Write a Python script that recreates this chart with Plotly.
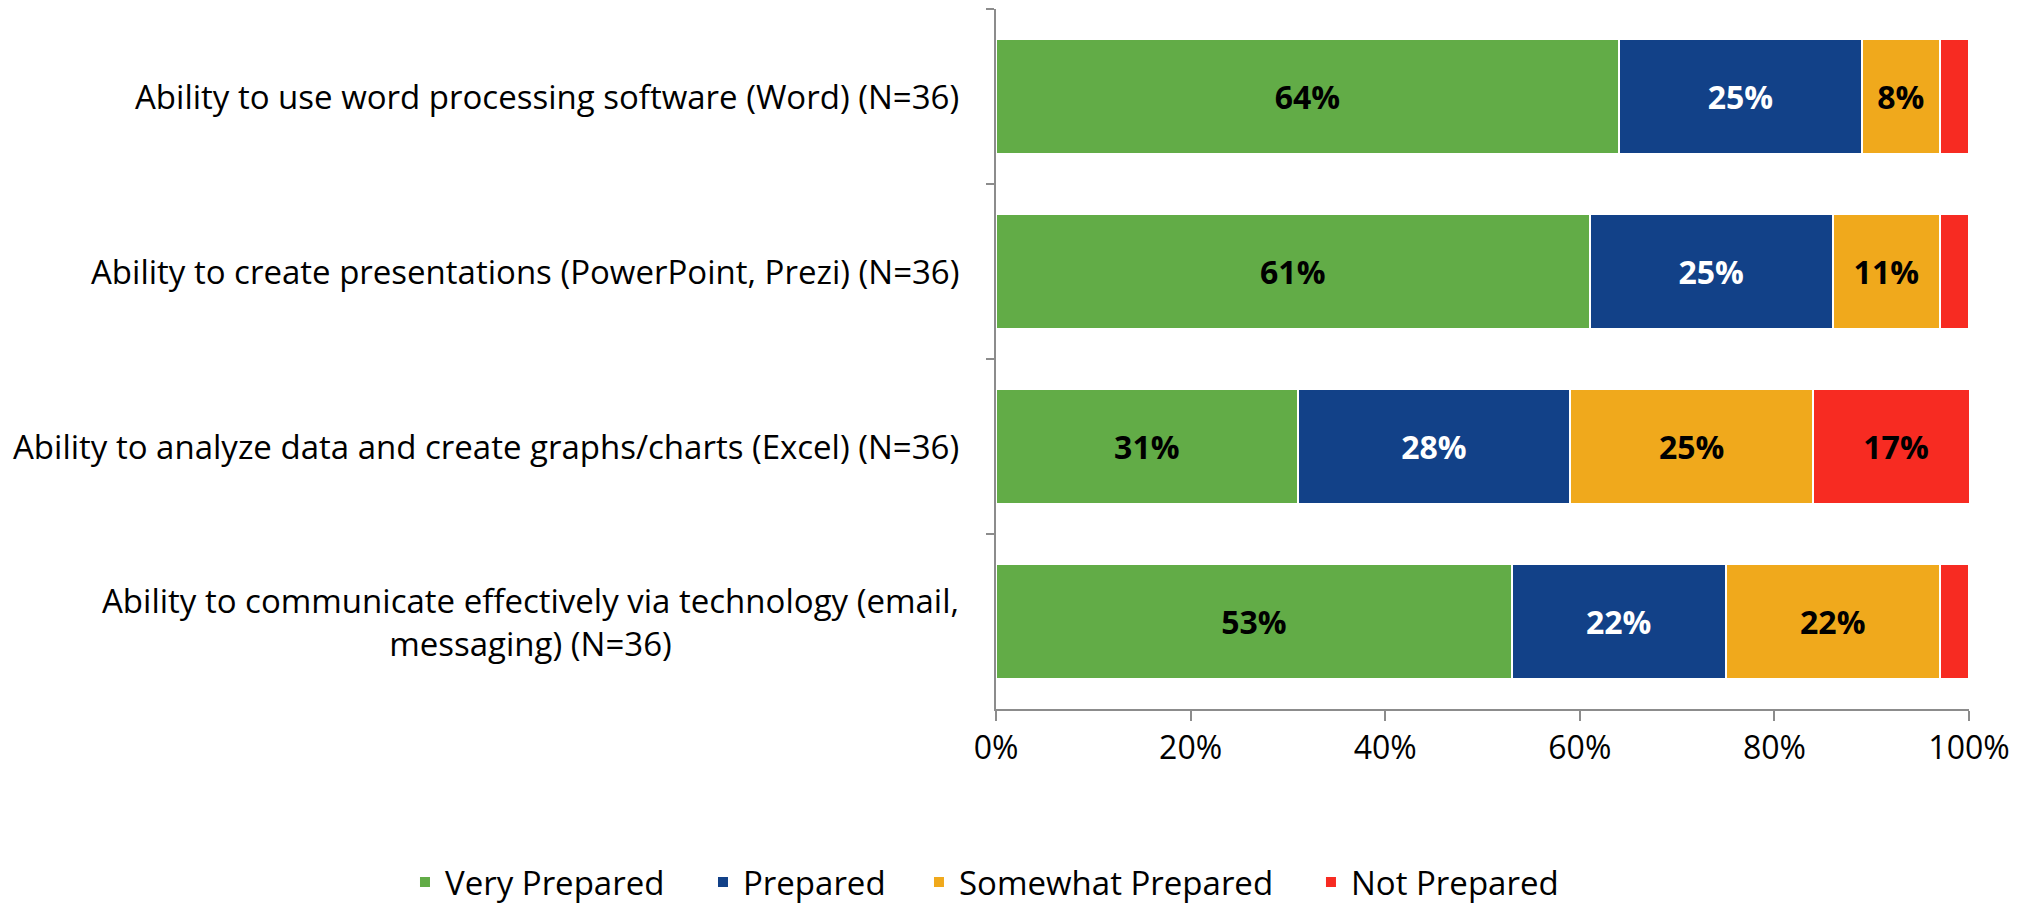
import plotly.graph_objects as go

categories = [
    "Ability to use word processing software (Word) (N=36)",
    "Ability to create presentations (PowerPoint, Prezi) (N=36)",
    "Ability to analyze data and create graphs/charts (Excel) (N=36)",
    "Ability to communicate effectively via technology (email,<br>messaging) (N=36)",
]
series_names = ["Very Prepared", "Prepared", "Somewhat Prepared", "Not Prepared"]
very_prepared = [64, 61, 31, 53]
prepared = [25, 25, 28, 22]
somewhat_prepared = [8, 11, 25, 22]
not_prepared = [3, 3, 17, 3]
x_ticks = [0, 20, 40, 60, 80, 100]
x_tick_labels = ["0%", "20%", "40%", "60%", "80%", "100%"]

colors = ["#62AC47", "#124188", "#F0A91C", "#F72B22"]
label_colors = ["black", "white", "black", "black"]
legend_x = [0.1995, 0.3463, 0.4527, 0.6458]

FONT = "Open Sans"
W, H = 2030, 910
ML, MR, MT, MB = 996, 61, 9, 201

ykeys = [f"c{i}" for i in range(len(categories))]
legend_ids = ["legend", "legend2", "legend3", "legend4"]

fig = go.Figure()
for name, vals, col, lc, lid in zip(series_names,
                                    [very_prepared, prepared, somewhat_prepared, not_prepared],
                                    colors, label_colors, legend_ids):
    fig.add_trace(go.Bar(
        y=ykeys, x=vals, name=name, orientation="h",
        marker=dict(color=col, line=dict(color="white", width=2)),
        text=[f"{v}%" if v >= 5 else "" for v in vals],
        textposition="inside", insidetextanchor="middle",
        textfont=dict(family=FONT, size=32, color=lc, weight="bold"),
        constraintext="none",
        hoverinfo="x+name",
        legend=lid,
    ))

for k, c in zip(ykeys, categories):
    fig.add_annotation(
        x=0, xref="paper", y=k, yref="y", xanchor="right", xshift=-35,
        text=c, showarrow=False, align="center",
        font=dict(family=FONT, size=33, color="black"),
    )

legend_layout = {}
for lid, lx in zip(legend_ids, legend_x):
    legend_layout[lid] = dict(
        orientation="h", xref="container", yref="container",
        x=lx, xanchor="left", y=0.0, yanchor="bottom",
        font=dict(family=FONT, size=33, color="black"),
        itemwidth=30, bgcolor="rgba(0,0,0,0)",
    )

fig.update_layout(
    barmode="stack", bargap=0.34,
    width=W, height=H,
    margin=dict(l=ML, r=MR, t=MT, b=MB),
    plot_bgcolor="white", paper_bgcolor="white",
    font=dict(family=FONT, size=33, color="black"),
    showlegend=True,
    uniformtext=dict(mode=False),
    **legend_layout,
)
fig.update_xaxes(
    range=[0, 100], tickvals=x_ticks, ticktext=x_tick_labels,
    showgrid=False, zeroline=False,
    showline=True, linecolor="#8C8C8C", linewidth=2,
    ticks="outside", ticklen=10, tickcolor="#8C8C8C", tickwidth=2,
    tickfont=dict(family=FONT, size=32, color="black"),
)
fig.update_yaxes(
    autorange="reversed", showticklabels=False,
    showgrid=False, zeroline=False,
    showline=True, linecolor="#8C8C8C", linewidth=2,
    ticks="outside", ticklen=8, tickcolor="#8C8C8C", tickwidth=2,
    tickson="boundaries",
)

fig.write_html(
    "out.html",
    config={"displayModeBar": False},
    post_script="document.body.style.margin='0';document.body.style.overflow='hidden';",
)
